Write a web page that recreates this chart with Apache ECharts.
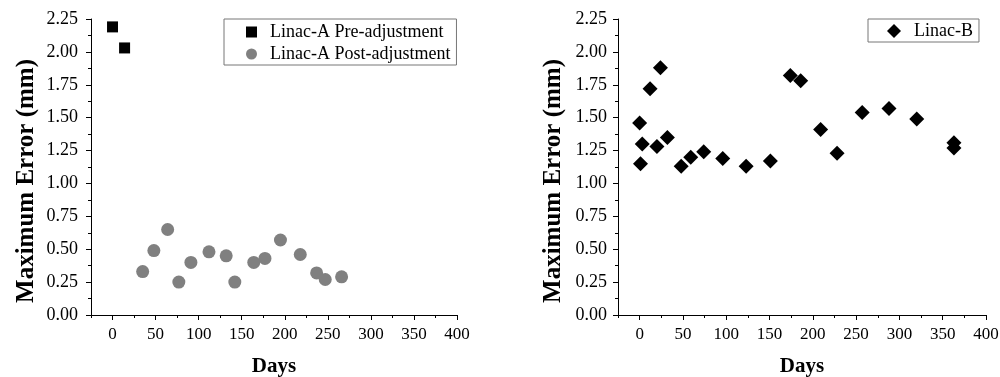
<!DOCTYPE html>
<html>
<head>
<meta charset="utf-8">
<script src="https://cdn.jsdelivr.net/npm/echarts@6/dist/echarts.min.js"></script>
<style>
html,body{margin:0;padding:0;background:#fff;}
#chart{width:1000px;height:377px;}
</style>
</head>
<body>
<div id="chart"></div>
<script>
// ---- data ----
const preDays = [0, 14];
const preErr = [2.19, 2.03];
const postDays = [35, 48, 64, 77, 91, 112, 132, 142, 164, 177, 195, 218, 237, 247, 266];
const postErr = [0.33, 0.49, 0.65, 0.25, 0.40, 0.48, 0.45, 0.25, 0.40, 0.43, 0.57, 0.46, 0.32, 0.27, 0.29];
const bDays = [0, 1, 3, 12, 20, 24, 32, 48, 59, 74, 96, 123, 151, 174, 186, 209, 228, 257, 288, 320, 363, 363];
const bErr = [1.46, 1.15, 1.30, 1.72, 1.28, 1.88, 1.35, 1.13, 1.20, 1.24, 1.19, 1.13, 1.17, 1.82, 1.78, 1.41, 1.23, 1.54, 1.57, 1.49, 1.31, 1.27];
const xTickLabels = [0, 50, 100, 150, 200, 250, 300, 350, 400];
const seriesNames = ['Linac-A Pre-adjustment', 'Linac-A Post-adjustment', 'Linac-B'];
const xName = 'Days';
const yName = 'Maximum Error (mm)';

const FONT = '"Liberation Serif", "Times New Roman", serif';
const pair = (xs, ys) => xs.map((x, i) => [x, ys[i]]);

function xAxesFor(g) {
  return [
    {
      gridIndex: g, type: 'value', position: 'bottom', min: -25, max: 400, interval: 25,
      axisLine: { show: true, onZero: false, lineStyle: { color: '#000', width: 1 } },
      axisTick: { show: true, length: 3, lineStyle: { color: '#000' } },
      axisLabel: { show: false },
      splitLine: { show: false },
      name: xName, nameLocation: 'middle', nameGap: 41,
      nameTextStyle: { fontFamily: FONT, fontWeight: 'bold', fontSize: 21, color: '#000' }
    },
    {
      gridIndex: g, type: 'value', position: 'bottom', min: -25, max: 400,
      axisLine: { show: false, onZero: false },
      axisTick: { show: true, length: 5, customValues: xTickLabels, lineStyle: { color: '#000' } },
      axisLabel: { show: true, customValues: xTickLabels, margin: 11, fontFamily: FONT, fontSize: 17, color: '#000' },
      splitLine: { show: false }
    }
  ];
}

function yAxisFor(g, labelMargin) {
  return {
    gridIndex: g, type: 'value', min: 0, max: 2.25, interval: 0.25,
    axisLine: { show: true, onZero: false, lineStyle: { color: '#000', width: 1 } },
    axisTick: { show: true, length: 5, lineStyle: { color: '#000' } },
    minorTick: { show: true, splitNumber: 2, length: 3, lineStyle: { color: '#000' } },
    axisLabel: { margin: labelMargin, fontFamily: FONT, fontSize: 18, color: '#000', formatter: v => v.toFixed(2) },
    splitLine: { show: false },
    name: yName, nameLocation: 'middle', nameGap: 52,
    nameTextStyle: { fontFamily: FONT, fontWeight: 'bold', fontSize: 25, color: '#000', padding: [0, 28, 0, 0] }
  };
}

const chart = echarts.init(document.getElementById('chart'), null, { renderer: 'canvas' });
chart.setOption({
  animation: false,
  backgroundColor: '#fff',
  grid: [
    { left: 91, top: 19, width: 366, height: 296, containLabel: false, outerBoundsMode: 'none' },
    { left: 618, top: 19, width: 368, height: 296, containLabel: false, outerBoundsMode: 'none' }
  ],
  xAxis: [...xAxesFor(0), ...xAxesFor(1)],
  yAxis: [yAxisFor(0, 13), yAxisFor(1, 11)],
  legend: [
    {
      data: [seriesNames[0], seriesNames[1]],
      orient: 'vertical', left: 224, top: 19,
      padding: [4, 6, 2, 22], itemGap: 4, itemWidth: 11, itemHeight: 11,
      borderColor: '#777', borderWidth: 1,
      textStyle: { fontFamily: FONT, fontSize: 18, color: '#000', padding: [0, 0, 0, 8] }
    },
    {
      data: [seriesNames[2]],
      orient: 'vertical', left: 868, top: 19,
      padding: [3, 6, 2, 19], itemWidth: 14, itemHeight: 14,
      borderColor: '#777', borderWidth: 1,
      textStyle: { fontFamily: FONT, fontSize: 18, color: '#000', padding: [0, 0, 0, 8] }
    }
  ],
  series: [
    {
      name: seriesNames[0], type: 'scatter', xAxisIndex: 0, yAxisIndex: 0,
      symbol: 'rect', symbolSize: 11, itemStyle: { color: '#000', opacity: 1 },
      data: pair(preDays, preErr)
    },
    {
      name: seriesNames[1], type: 'scatter', xAxisIndex: 0, yAxisIndex: 0,
      symbol: 'circle', symbolSize: 13, itemStyle: { color: '#808080', opacity: 1 },
      data: pair(postDays, postErr)
    },
    {
      name: seriesNames[2], type: 'scatter', xAxisIndex: 2, yAxisIndex: 1,
      symbol: 'diamond', symbolSize: 15, itemStyle: { color: '#000', opacity: 1 },
      data: pair(bDays, bErr)
    }
  ]
});
</script>
</body>
</html>
